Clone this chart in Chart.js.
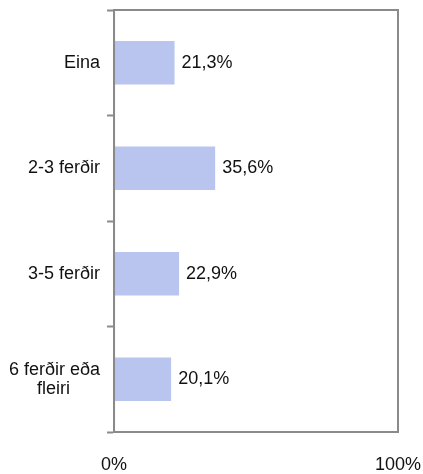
<!DOCTYPE html>
<html>
<head>
<meta charset="utf-8">
<script src="https://cdn.jsdelivr.net/npm/chart.js@4/dist/chart.umd.min.js"></script>
<style>
  html, body { margin: 0; padding: 0; background: #fff; }
  #wrap { width: 423px; height: 474px; }
</style>
</head>
<body>
<div id="wrap"><canvas id="trips"></canvas></div>
<script>
// data
// (second line of the last label is padded so it sits centred under the first)
const categories = ["Eina", "2-3 ferðir", "3-5 ferðir", ["6 ferðir eða", "fleiri\u00a0\u00a0\u00a0\u00a0\u00a0\u00a0"]];
const shares = [21.3, 35.6, 22.9, 20.1];
const xTicks = [0, 100];

const FONT = "'Liberation Sans', Arial, sans-serif";
const AXIS = "#8a8a8a";
const TEXT = "#111";

// box round the plot area
const frame = {
  id: "frame",
  afterDraw(chart) {
    const a = chart.chartArea;
    const ctx = chart.ctx;
    ctx.save();
    ctx.strokeStyle = AXIS;
    ctx.lineWidth = 2;
    ctx.strokeRect(a.left, a.top, a.right - a.left, a.bottom - a.top);
    ctx.restore();
  }
};

// value labels at the end of each bar
const valueLabels = {
  id: "valueLabels",
  afterDatasetsDraw(chart) {
    const ctx = chart.ctx;
    const meta = chart.getDatasetMeta(0);
    ctx.save();
    ctx.font = "18px " + FONT;
    ctx.fillStyle = TEXT;
    ctx.textBaseline = "middle";
    ctx.textAlign = "left";
    meta.data.forEach((bar, i) => {
      const txt = shares[i].toFixed(1).replace(".", ",") + "%";
      ctx.fillText(txt, bar.x + 7, bar.y);
    });
    ctx.restore();
  }
};

// no automatic label overhang, the layout padding takes care of it
function noPad(axis) {
  axis.paddingTop = 0;
  axis.paddingBottom = 0;
  axis.paddingLeft = 0;
  axis.paddingRight = 0;
}

new Chart(document.getElementById("trips"), {
  type: "bar",
  data: {
    labels: categories,
    datasets: [{
      data: shares,
      backgroundColor: "#b9c5ee",
      borderWidth: 0,
      barPercentage: 0.41,
      categoryPercentage: 1
    }]
  },
  options: {
    indexAxis: "y",
    responsive: true,
    maintainAspectRatio: false,
    animation: false,
    layout: { padding: { top: 10, right: 25, bottom: 0, left: 2 } },
    plugins: {
      legend: { display: false },
      tooltip: { enabled: false }
    },
    scales: {
      x: {
        min: 0,
        max: 100,
        afterBuildTicks(axis) {
          axis.ticks = xTicks.map(v => ({ value: v }));
        },
        afterFit(axis) {
          noPad(axis);
          // padding gets counted twice in the height, only keep it once
          axis.height -= axis.options.ticks.padding;
        },
        border: { display: true, color: AXIS, width: 2 },
        grid: { display: true, drawOnChartArea: false, drawTicks: false },
        ticks: {
          padding: 24,
          color: TEXT,
          font: { family: FONT, size: 18, lineHeight: 1 },
          maxRotation: 0,
          callback: v => v + "%"
        }
      },
      y: {
        afterFit: noPad,
        border: { display: true, color: AXIS, width: 2 },
        grid: {
          offset: true,
          drawOnChartArea: false,
          drawTicks: true,
          tickLength: 7,
          tickWidth: 2,
          tickColor: AXIS
        },
        ticks: {
          padding: 7,
          color: TEXT,
          font: { family: FONT, size: 18, lineHeight: 1.05 }
        }
      }
    }
  },
  plugins: [frame, valueLabels]
});
</script>
</body>
</html>
